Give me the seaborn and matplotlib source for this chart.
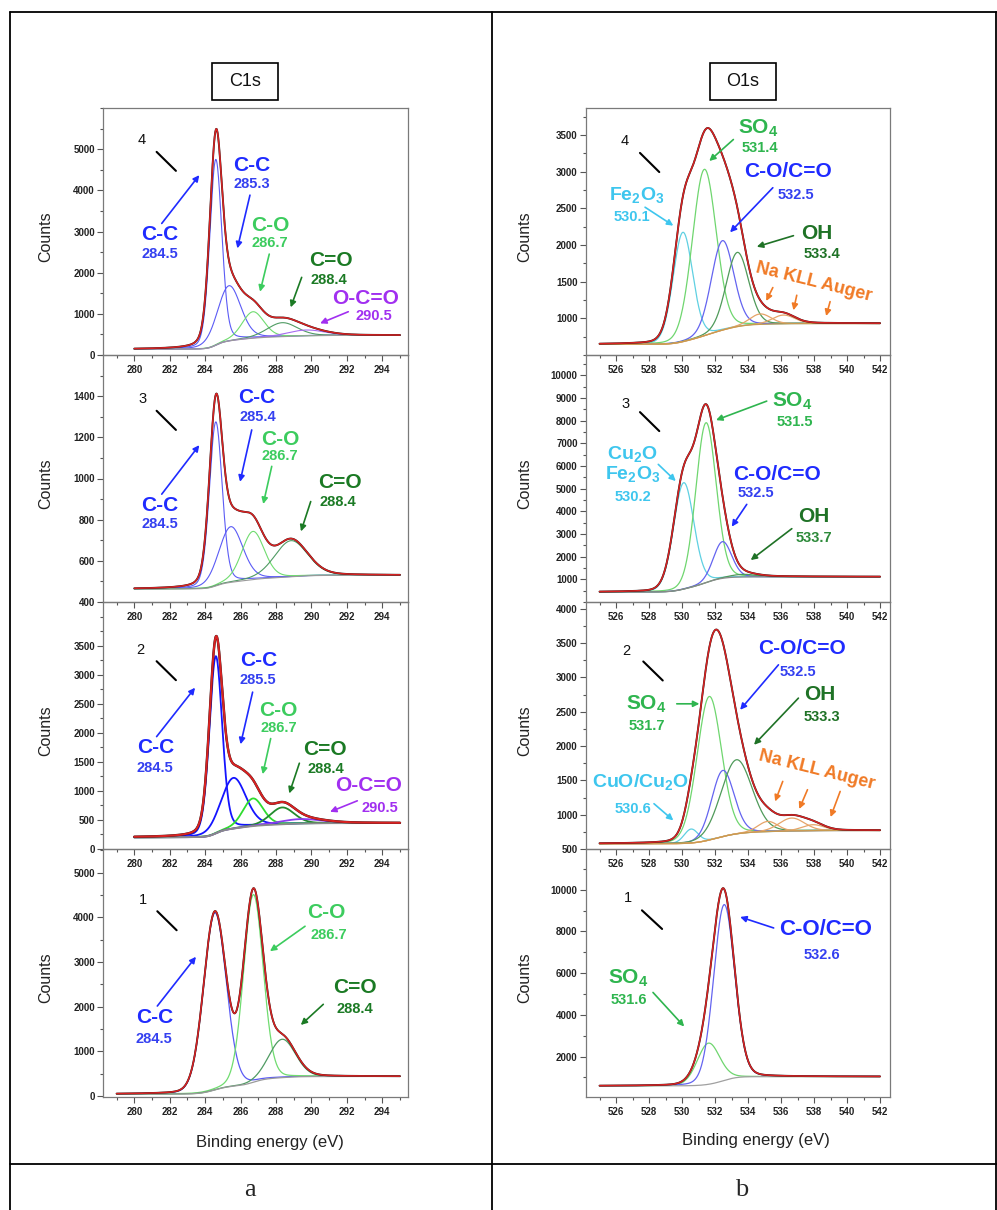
import numpy as np
import matplotlib
matplotlib.use("Agg")
import matplotlib.pyplot as plt
import seaborn as sns
from matplotlib.lines import Line2D
from matplotlib.patches import Rectangle
from matplotlib.ticker import MultipleLocator

# ------------------------------------------------------------------
# Values.
# For every fitted component: centre (eV), apex of the drawn component
# curve (counts), FWHM (eV); background level at low / high BE end.
# ------------------------------------------------------------------
c1s_range = [280.0, 295.0]
c1s1_range = [279.0, 295.0]
o1s_range = [525.0, 542.0]

# C1s, sample 4
c4_species = ["C-C", "C-C", "C-O", "C=O", "O-C=O"]
c4_center = [284.6, 285.35, 286.7, 288.35, 289.7]
c4_apex = [4750, 1683, 1051, 785, 607]
c4_fwhm = [0.8, 1.55, 1.45, 2.0, 2.5]
c4_background = [140, 478]

# C1s, sample 3
c3_species = ["C-C", "C-C", "C-O", "C=O"]
c3_center = [284.6, 285.45, 286.7, 288.85]
c3_apex = [1275, 766, 743, 698]
c3_fwhm = [0.85, 1.6, 1.5, 2.2]
c3_background = [463, 530]

# C1s, sample 2
c2_species = ["C-C", "C-C", "C-O", "C=O", "O-C=O"]
c2_center = [284.6, 285.6, 286.7, 288.35, 289.4]
c2_apex = [3317, 1224, 870, 715, 515]
c2_fwhm = [0.85, 1.65, 1.35, 1.6, 2.8]
c2_background = [200, 446]

# C1s, sample 1
c1_species = ["C-C", "C-O", "C=O"]
c1_center = [284.55, 286.72, 288.35]
c1_apex = [4100, 4509, 1272]
c1_fwhm = [1.5, 1.3, 1.75]
c1_background = [45, 440]

# O1s, sample 4
o4_species = ["Fe2O3", "SO4", "C-O/C=O", "OH", "Na", "Na"]
o4_center = [530.05, 531.35, 532.45, 533.35, 534.75, 536.15]
o4_apex = [2174, 3033, 2060, 1900, 1060, 1045]
o4_fwhm = [1.4, 1.7, 1.6, 1.6, 1.5, 1.6]
o4_background = [645, 930]

# O1s, sample 3
o3_species = ["Fe2O3", "SO4", "C-O/C=O", "OH"]
o3_center = [530.1, 531.45, 532.45, 533.7]
o3_apex = [5265, 7911, 2663, 1220]
o3_fwhm = [1.45, 1.45, 1.3, 1.8]
o3_background = [440, 1115]

# O1s, sample 2
o2_species = ["Fe2O3", "SO4", "C-O/C=O", "OH", "Na", "Na", "Na"]
o2_center = [530.55, 531.65, 532.47, 533.3, 535.2, 536.65, 537.95]
o2_apex = [791, 2723, 1645, 1801, 902, 951, 854]
o2_fwhm = [1.0, 1.75, 1.6, 2.2, 1.4, 1.8, 1.6]
o2_background = [577, 770]

# O1s, sample 1
o1_species = ["SO4", "C-O/C=O"]
o1_center = [531.6, 532.55]
o1_apex = [2643, 9283]
o1_fwhm = [1.6, 1.5]
o1_background = [593, 1040]

# axis tick values
c4_yticks = [0, 1000, 2000, 3000, 4000, 5000]
c3_yticks = [400, 600, 800, 1000, 1200, 1400]
c2_yticks = [0, 500, 1000, 1500, 2000, 2500, 3000, 3500]
c1_yticks = [0, 1000, 2000, 3000, 4000, 5000]
o4_yticks = [1000, 1500, 2000, 2500, 3000, 3500]
o3_yticks = [1000, 2000, 3000, 4000, 5000, 6000, 7000, 8000, 9000, 10000]
o2_yticks = [500, 1000, 1500, 2000, 2500, 3000, 3500, 4000]
o1_yticks = [2000, 4000, 6000, 8000, 10000]
c1s_xticks = [280, 282, 284, 286, 288, 290, 292, 294]
o1s_xticks = [526, 528, 530, 532, 534, 536, 538, 540, 542]

# ------------------------------------------------------------------
sns.set_theme(style="ticks")
plt.rcParams["font.family"] = ["Liberation Sans", "DejaVu Sans"]
plt.rcParams["mathtext.fontset"] = "custom"
plt.rcParams["mathtext.rm"] = "Liberation Sans"
plt.rcParams["mathtext.bf"] = "Liberation Sans:bold"
plt.rcParams["axes.facecolor"] = "none"

W, H = 997, 1210
fig = plt.figure(figsize=(W / 100, H / 100), dpi=100)
fig.patch.set_facecolor("white")


def fx(px):
    return px / W


def fy(py):
    return 1 - py / H


def pseudo_voigt(x, c, h, w, m):
    u = (x - c) / w
    return h * ((1 - m) * np.exp(-4 * np.log(2) * u ** 2) + m / (1 + 4 * u ** 2))


def fit_components(x, centers, apex, fwhm, background, mix):
    centers = np.asarray(centers, float)
    apex = np.asarray(apex, float)
    lo, hi = background
    heights = apex - lo
    peaks, bg = None, None
    for _ in range(10):
        peaks = [pseudo_voigt(x, c, h, w, mix) for c, h, w in zip(centers, heights, fwhm)]
        total = np.sum(peaks, axis=0)
        cum = np.cumsum(total)
        cum = cum / cum[-1]
        bg = lo + (hi - lo) * cum
        heights = np.maximum(apex - np.interp(centers, x, bg), 1.0)
    return peaks, bg


def line(ax, x, y, color, lw, z=2):
    sns.lineplot(x=x, y=y, ax=ax, color=color, linewidth=lw, estimator=None,
                 sort=False, errorbar=None, legend=False, zorder=z)


def draw_spectrum(ax, erange, species, centers, apex, fwhm, background, mix,
                  colors, lw, bg_color, env_lw=1.1):
    x = np.linspace(erange[0], erange[1], 900)
    peaks, bg = fit_components(x, centers, apex, fwhm, background, mix)
    for sp, p in zip(species, peaks):
        line(ax, x, bg + p, colors[sp], lw)
    line(ax, x, bg, bg_color, lw)
    env = bg + np.sum(peaks, axis=0)
    line(ax, x, env, "#1a1a1a", env_lw + 0.25, 3)
    line(ax, x, env, "#d82222", env_lw, 4)


def style_axes(ax, xlim, ylim, xticks, yticks, yminor):
    ax.set_xlim(xlim)
    ax.set_ylim(ylim)
    ax.set_xticks(xticks)
    ax.xaxis.set_minor_locator(MultipleLocator(1))
    ax.set_yticks(yticks)
    ax.yaxis.set_minor_locator(MultipleLocator(yminor))
    ax.tick_params(which="both", direction="out", top=False, right=False,
                   left=True, bottom=True, color="#555555", width=0.8,
                   labelsize=7, labelcolor="#222222")
    ax.tick_params(which="major", length=4, pad=2)
    ax.tick_params(which="minor", length=2)
    ax.tick_params(axis="x", pad=3)
    for s in ax.spines.values():
        s.set_color("#7a7a7a")
        s.set_linewidth(0.9)
    for lab in ax.get_xticklabels() + ax.get_yticklabels():
        lab.set_fontweight("bold")
    ax.set_xlabel("")
    ax.set_ylabel("Counts", fontsize=11.5, color="#222222")
    ax.set_facecolor("none")


def label(ax, s, x, y, color, size=15, rot=0):
    ax.text(x, y, s, color=color, fontsize=size, fontweight="bold",
            ha="center", va="center", rotation=rot, rotation_mode="anchor",
            zorder=6)


def arrow(ax, tail, head, color):
    ax.annotate("", xy=head, xytext=tail, annotation_clip=False, zorder=6,
                arrowprops=dict(arrowstyle="-|>", color=color, lw=1.2,
                                mutation_scale=9, shrinkA=0, shrinkB=0))


def number(ax, s, pos, line_from, line_to):
    ax.text(pos[0], pos[1], s, fontsize=10.5, color="#111111",
            ha="center", va="center", zorder=6)
    ax.plot([line_from[0], line_to[0]], [line_from[1], line_to[1]],
            color="black", lw=1.5, zorder=6)


# colours
left_light = {"C-C": "#5b5bf5", "C-O": "#70dc70", "C=O": "#4f9b63",
              "O-C=O": "#a66cf0"}
left_strong = {"C-C": "#1414ff", "C-O": "#2fdc2f", "C=O": "#238b2d",
               "O-C=O": "#8b3cf0"}
right_cols = {"Fe2O3": "#5fd0e2", "SO4": "#6fd66f", "C-O/C=O": "#6464f0",
              "OH": "#4f9a5a", "Na": "#e6a468"}

T_BLUE = "#1f2bff"
T_BLUE2 = "#3440f0"
T_LGREEN = "#3ccc5e"
T_DGREEN = "#1b7a24"
T_PURPLE = "#a12ff0"
T_SO4 = "#2fb54f"
T_CYAN = "#3ec6ee"
T_OH = "#1f7226"
T_ORANGE = "#f07a26"

# panel geometry (pixels)
rows = [(108, 355), (355, 602), (602, 849), (849, 1097)]
left_x = (103.3, 408.3)
right_x = (586, 890)


def make_ax(xr, yr):
    return fig.add_axes([fx(xr[0]), fy(yr[1]), fx(xr[1] - xr[0]),
                         (yr[1] - yr[0]) / H])


C_XLIM = (278.25, 295.47)
O_XLIM = (524.18, 542.6)

# ---------------- C1s column ----------------
ax = make_ax(left_x, rows[0])
draw_spectrum(ax, c1s_range, c4_species, c4_center, c4_apex, c4_fwhm,
              c4_background, 0.2, left_light, 0.8, "#9a9a9a")
style_axes(ax, C_XLIM, (0, 6000), c1s_xticks, c4_yticks, 500)
number(ax, "4", (280.42, 5218), (281.26, 4934), (282.35, 4473))
label(ax, "C-C", 281.45, 2937, T_BLUE)
label(ax, "284.5", 281.45, 2451, T_BLUE2, 10.5)
arrow(ax, (281.55, 3196), (283.67, 4369), T_BLUE)
label(ax, "C-C", 286.63, 4612, T_BLUE)
label(ax, "285.3", 286.66, 4150, T_BLUE2, 10.5)
arrow(ax, (286.53, 3883), (285.82, 2590), T_BLUE)
label(ax, "C-O", 287.66, 3155, T_LGREEN)
label(ax, "286.7", 287.66, 2726, T_LGREEN, 10.5)
arrow(ax, (287.62, 2451), (287.1, 1537), T_LGREEN)
label(ax, "C=O", 291.09, 2289, T_DGREEN)
label(ax, "288.4", 290.96, 1820, T_DGREEN, 10.5)
arrow(ax, (289.45, 1886), (288.83, 1158), T_DGREEN)
label(ax, "O-C=O", 293.03, 1376, T_PURPLE)
label(ax, "290.5", 293.5, 947, T_PURPLE, 10.5)
arrow(ax, (292.08, 1051), (290.49, 769), T_PURPLE)

ax = make_ax(left_x, rows[1])
draw_spectrum(ax, c1s_range, c3_species, c3_center, c3_apex, c3_fwhm,
              c3_background, 0.2, left_light, 0.8, "#9a9a9a")
style_axes(ax, C_XLIM, (400, 1600), c1s_xticks, c3_yticks, 100)
number(ax, "3", (280.45, 1385), (281.26, 1329), (282.35, 1236))
label(ax, "C-C", 281.45, 867, T_BLUE)
label(ax, "284.5", 281.45, 777, T_BLUE2, 10.5)
arrow(ax, (281.55, 924), (283.67, 1162), T_BLUE)
label(ax, "C-C", 286.91, 1394, T_BLUE)
label(ax, "285.4", 286.95, 1297, T_BLUE2, 10.5)
arrow(ax, (286.63, 1236), (285.97, 984), T_BLUE)
label(ax, "C-O", 288.27, 1191, T_LGREEN)
label(ax, "286.7", 288.23, 1107, T_LGREEN, 10.5)
arrow(ax, (287.76, 1059), (287.28, 876), T_LGREEN)
label(ax, "C=O", 291.62, 981, T_DGREEN)
label(ax, "288.4", 291.49, 884, T_DGREEN, 10.5)
arrow(ax, (289.96, 888), (289.41, 743), T_DGREEN)

ax = make_ax(left_x, rows[2])
draw_spectrum(ax, c1s_range, c2_species, c2_center, c2_apex, c2_fwhm,
              c2_background, 0.2, left_strong, 1.3, "#8a8a8a", 1.5)
style_axes(ax, C_XLIM, (0, 4250), c1s_xticks, c2_yticks, 250)
number(ax, "2", (280.32, 3420), (281.26, 3231), (282.35, 2905))
label(ax, "C-C", 281.23, 1745, T_BLUE)
label(ax, "284.5", 281.17, 1402, T_BLUE2, 10.5)
arrow(ax, (281.26, 1934), (283.43, 2775), T_BLUE)
label(ax, "C-C", 287.0, 3243, T_BLUE)
label(ax, "285.5", 287.0, 2905, T_BLUE2, 10.5)
arrow(ax, (286.68, 2699), (286.0, 1802), T_BLUE)
label(ax, "C-O", 288.13, 2385, T_LGREEN)
label(ax, "286.7", 288.18, 2088, T_LGREEN, 10.5)
arrow(ax, (287.7, 1900), (287.25, 1287), T_LGREEN)
label(ax, "C=O", 290.77, 1716, T_DGREEN)
label(ax, "288.4", 290.83, 1385, T_DGREEN, 10.5)
arrow(ax, (289.32, 1476), (288.75, 956), T_DGREEN)
label(ax, "O-C=O", 293.21, 1086, T_PURPLE)
label(ax, "290.5", 293.84, 704, T_PURPLE, 10.5)
arrow(ax, (292.59, 829), (291.05, 640), T_PURPLE)

ax = make_ax(left_x, rows[3])
draw_spectrum(ax, c1s1_range, c1_species, c1_center, c1_apex, c1_fwhm,
              c1_background, 0.1, left_light, 0.9, "#9a9a9a")
style_axes(ax, C_XLIM, (-20, 5530), c1s_xticks, c1_yticks, 500)
number(ax, "1", (280.51, 4382), (281.3, 4137), (282.39, 3712))
label(ax, "C-C", 281.17, 1756, T_BLUE)
label(ax, "284.5", 281.11, 1287, T_BLUE2, 10.5)
arrow(ax, (281.3, 2016), (283.48, 3118), T_BLUE)
label(ax, "C-O", 290.82, 4100, T_LGREEN)
label(ax, "286.7", 290.96, 3616, T_LGREEN, 10.5)
arrow(ax, (289.64, 3801), (287.66, 3243), T_LGREEN)
label(ax, "C=O", 292.46, 2426, T_DGREEN)
label(ax, "288.4", 292.46, 1942, T_DGREEN, 10.5)
arrow(ax, (290.67, 2054), (289.4, 1592), T_DGREEN)
ax.set_xlabel("Binding energy (eV)", fontsize=12, color="#222222")
ax.xaxis.set_label_coords(0.547, -0.153)

for a in fig.axes:
    a.yaxis.set_label_coords(-0.165, 0.48)

# ---------------- O1s column ----------------
SO4 = r"SO$_\mathbf{4}$"
ax = make_ax(right_x, rows[0])
draw_spectrum(ax, o1s_range, o4_species, o4_center, o4_apex, o4_fwhm,
              o4_background, 0.1, right_cols, 0.9, "#c89a50")
style_axes(ax, O_XLIM, (500, 3870), o1s_xticks, o4_yticks, 250)
number(ax, "4", (526.55, 3421), (527.45, 3257), (528.62, 2996))
label(ax, SO4, 534.62, 3591, T_SO4)
label(ax, "531.4", 534.73, 3331, T_SO4, 10.5)
arrow(ax, (533.11, 3440), (531.65, 3147), T_SO4)
label(ax, "C-O/C=O", 536.44, 3006, T_BLUE)
label(ax, "532.5", 536.91, 2677, T_BLUE2, 10.5)
arrow(ax, (535.5, 2782), (532.91, 2174), T_BLUE)
label(ax, r"Fe$_\mathbf{2}$O$_\mathbf{3}$", 527.25, 2677, T_CYAN, 14)
label(ax, "530.1", 526.99, 2389, T_CYAN, 10.5)
arrow(ax, (527.76, 2516), (529.47, 2265), T_CYAN)
label(ax, "OH", 538.16, 2152, T_OH)
label(ax, "533.4", 538.47, 1877, T_OH, 10.5)
arrow(ax, (536.75, 2128), (534.53, 1977), T_OH)
label(ax, "Na KLL Auger", 537.96, 1488, T_ORANGE, 13, -14)
arrow(ax, (535.5, 1420), (535.1, 1237), T_ORANGE)
arrow(ax, (536.95, 1315), (536.75, 1110), T_ORANGE)
arrow(ax, (538.97, 1228), (538.73, 1032), T_ORANGE)

ax = make_ax(right_x, rows[1])
draw_spectrum(ax, o1s_range, o3_species, o3_center, o3_apex, o3_fwhm,
              o3_background, 0.1, right_cols, 0.9, "#8a8a8a")
style_axes(ax, O_XLIM, (0, 10900), o1s_xticks, o3_yticks, 500)
number(ax, "3", (526.55, 8720), (527.45, 8380), (528.62, 7542))
label(ax, SO4, 536.65, 8865, T_SO4)
label(ax, "531.5", 536.85, 7938, T_SO4, 10.5)
arrow(ax, (535.13, 8865), (532.06, 8027), T_SO4)
label(ax, r"Cu$_\mathbf{2}$O", 527.01, 6514, T_CYAN, 14)
label(ax, r"Fe$_\mathbf{2}$O$_\mathbf{3}$", 527.01, 5632, T_CYAN, 14)
label(ax, "530.2", 527.01, 4648, T_CYAN, 10.5)
arrow(ax, (528.56, 6073), (529.62, 5336), T_CYAN)
label(ax, "C-O/C=O", 535.74, 5632, T_BLUE)
label(ax, "532.5", 534.48, 4824, T_BLUE2, 10.5)
arrow(ax, (533.92, 4308), (533.01, 3325), T_BLUE)
label(ax, "OH", 537.96, 3793, T_OH)
label(ax, "533.7", 538.0, 2840, "#2d8a3a", 10.5)
arrow(ax, (536.65, 3236), (534.16, 1851), T_OH)

ax = make_ax(right_x, rows[2])
draw_spectrum(ax, o1s_range, o2_species, o2_center, o2_apex, o2_fwhm,
              o2_background, 0.1, right_cols, 0.9, "#c89a50")
style_axes(ax, O_XLIM, (500, 4100), o1s_xticks, o2_yticks, 250)
number(ax, "2", (526.65, 3393), (527.65, 3233), (528.83, 2956))
label(ax, "C-O/C=O", 537.25, 3428, T_BLUE)
label(ax, "532.5", 537.05, 3087, T_BLUE2, 10.5)
arrow(ax, (535.84, 3184), (533.52, 2529), T_BLUE)
label(ax, "OH", 538.36, 2747, T_OH)
label(ax, "533.3", 538.46, 2423, T_OH, 10.5)
arrow(ax, (537.05, 2699), (534.36, 2019), T_OH)
label(ax, SO4, 527.86, 2616, T_SO4)
label(ax, "531.7", 527.86, 2296, T_SO4, 10.5)
arrow(ax, (529.68, 2616), (531.05, 2616), T_SO4)
label(ax, r"CuO/Cu$_\mathbf{2}$O", 527.5, 1470, T_CYAN, 14)
label(ax, "530.6", 527.05, 1083, T_CYAN, 10.5)
arrow(ax, (528.3, 1160), (529.47, 917), T_CYAN)
label(ax, "Na KLL Auger", 538.16, 1645, T_ORANGE, 13, -14)
arrow(ax, (536.1, 1485), (535.64, 1193), T_ORANGE)
arrow(ax, (537.6, 1364), (537.1, 1083), T_ORANGE)
arrow(ax, (539.58, 1339), (539.0, 966), T_ORANGE)

ax = make_ax(right_x, rows[3])
draw_spectrum(ax, o1s_range, o1_species, o1_center, o1_apex, o1_fwhm,
              o1_background, 0.1, right_cols, 0.9, "#a0a0a0")
style_axes(ax, O_XLIM, (60, 11950), o1s_xticks, o1_yticks, 1000)
number(ax, "1", (526.71, 9604), (527.57, 9009), (528.79, 8116))
label(ax, "C-O/C=O", 538.7, 8083, T_BLUE, 16)
label(ax, "532.6", 538.5, 6882, T_BLUE2, 10.5)
arrow(ax, (535.55, 8164), (533.52, 8692), T_BLUE)
label(ax, SO4, 526.71, 5764, T_SO4)
label(ax, "531.6", 526.77, 4722, T_SO4, 10.5)
arrow(ax, (528.24, 5072), (530.13, 3440), T_SO4)
ax.set_xlabel("Binding energy (eV)", fontsize=12, color="#222222")
ax.xaxis.set_label_coords(0.56, -0.145)

for a in fig.axes[4:]:
    a.yaxis.set_label_coords(-0.178, 0.48)

# ---------------- table frame and captions ----------------
def fig_line(x0, y0, x1, y1, lw=1.3):
    fig.add_artist(Line2D([fx(x0), fx(x1)], [fy(y0), fy(y1)],
                          transform=fig.transFigure, color="black", lw=lw))


fig_line(10, 12, 997, 12)
fig_line(10, 12, 10, 1210)
fig_line(492, 12, 492, 1210)
fig_line(995.5, 12, 995.5, 1210)
fig_line(10, 1164, 997, 1164)

for (x0, x1), txt in [((212, 278), "C1s"), ((710, 776), "O1s")]:
    fig.add_artist(Rectangle((fx(x0), fy(100)), fx(x1 - x0), 37 / H,
                             transform=fig.transFigure, fill=False,
                             edgecolor="black", lw=1.2))
    fig.text(fx((x0 + x1) / 2), fy(82), txt, fontsize=13, ha="center",
             va="center", color="#111111")

fig.text(fx(250), fy(1190), "a", fontsize=19, ha="center", va="center",
         family=["Liberation Serif", "DejaVu Serif"])
fig.text(fx(742), fy(1190), "b", fontsize=19, ha="center", va="center",
         family=["Liberation Serif", "DejaVu Serif"])

fig.savefig("out.png", dpi=100, facecolor="white")
